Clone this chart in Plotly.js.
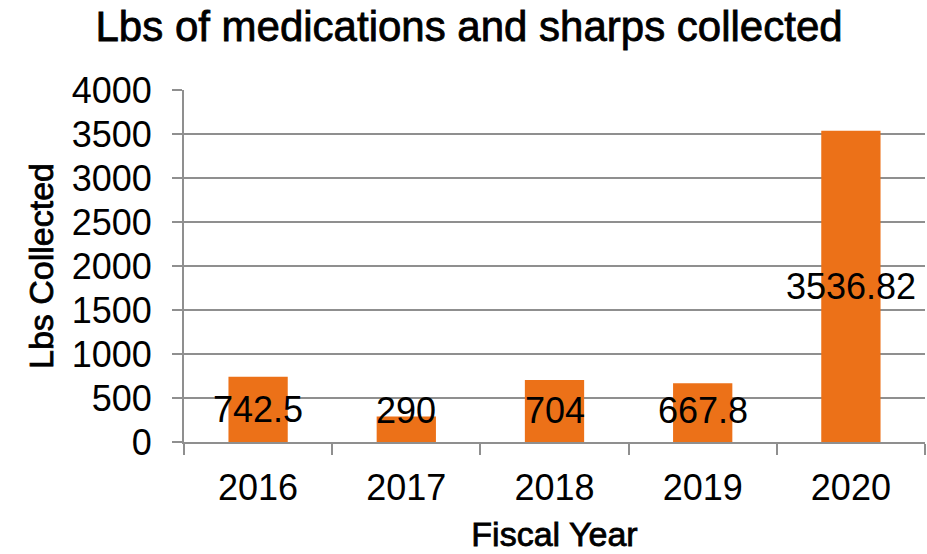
<!DOCTYPE html>
<html>
<head>
<meta charset="utf-8">
<script src="https://cdn.plot.ly/plotly-3.0.1.min.js"></script>
<style>
  html, body { margin: 0; padding: 0; background: #ffffff; }
  #chart { width: 927px; height: 554px; }
  /* slightly heavier strokes for the chart and axis titles */
  #chart .gtitle, #chart .xtitle, #chart .ytitle { stroke: #000000; stroke-width: 0.8px; }
</style>
</head>
<body>
<div id="chart"></div>
<script>
// Pounds of medications and sharps collected per fiscal year
const fiscalYears = ['2016', '2017', '2018', '2019', '2020'];
const lbsCollected = [742.5, 290, 704, 667.8, 3536.82];
const yTickValues = [0, 500, 1000, 1500, 2000, 2500, 3000, 3500, 4000];

const barColor = '#EC7118';
const gridColor = '#8f8f8f';
const font = 'Liberation Sans, Arial, sans-serif';

// Value labels sit in the middle of each bar, lifted a little for short bars.
// On a category axis annotations are placed by category index.
const minLabelY = 363;
const labels = fiscalYears.map((yr, i) => ({
  x: i,
  y: Math.max(lbsCollected[i] / 2, minLabelY),
  xref: 'x', yref: 'y',
  text: String(lbsCollected[i]),
  showarrow: false,
  xanchor: 'center', yanchor: 'middle',
  font: { family: font, size: 36, color: '#000000' }
}));

const trace = {
  type: 'bar',
  x: fiscalYears,
  y: lbsCollected,
  marker: { color: barColor, line: { width: 0 } },
  hoverinfo: 'x+y'
};

const layout = {
  width: 927,
  height: 554,
  paper_bgcolor: '#ffffff',
  plot_bgcolor: '#ffffff',
  margin: { l: 184, r: 2, t: 90, b: 112, pad: 0 },
  bargap: 0.6,
  showlegend: false,
  title: {
    text: 'Lbs of medications and sharps collected',
    font: { family: font, size: 42, color: '#000000' },
    x: 0.506, xref: 'container', xanchor: 'center',
    y: 0.953, yref: 'container', yanchor: 'middle'
  },
  xaxis: {
    type: 'category',
    range: [-0.5, fiscalYears.length - 0.5],
    tickangle: 0,
    title: { text: 'Fiscal Year', font: { family: font, size: 34, color: '#000000' }, standoff: 15 },
    tickfont: { family: font, size: 36, color: '#000000' },
    showline: true, linecolor: gridColor, linewidth: 2,
    ticks: 'outside', tickson: 'boundaries', ticklen: 11, tickwidth: 2, tickcolor: gridColor,
    ticklabelstandoff: 13,
    showgrid: false, zeroline: false,
    automargin: false, fixedrange: true
  },
  yaxis: {
    range: [0, 4000],
    tickvals: yTickValues,
    ticktext: yTickValues.map(String),
    title: { text: 'Lbs Collected', font: { family: font, size: 34, color: '#000000' }, standoff: 8 },
    tickfont: { family: font, size: 36, color: '#000000' },
    showline: true, linecolor: gridColor, linewidth: 2,
    ticks: 'outside', ticklen: 10, tickwidth: 2, tickcolor: gridColor,
    ticklabelstandoff: 13,
    showgrid: true, gridcolor: gridColor, gridwidth: 2,
    zeroline: false,
    automargin: false, fixedrange: true
  },
  annotations: labels
};

Plotly.newPlot('chart', [trace], layout, { displayModeBar: false, staticPlot: true });
</script>
</body>
</html>
